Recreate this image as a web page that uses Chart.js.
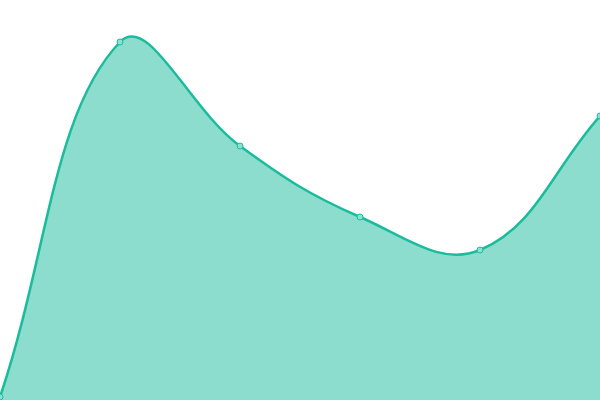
<!DOCTYPE html>
<html>
<head>
<meta charset="utf-8">
<script src="https://cdn.jsdelivr.net/npm/chart.js@4"></script>
<style>
  html, body { margin: 0; padding: 0; background: #fff; }
  #wrap { width: 600px; height: 400px; }
</style>
</head>
<body>
<div id="wrap"><canvas id="areaChart"></canvas></div>
<script>
const labels = ["A", "B", "C", "D", "E", "F"];
const values = [0.75, 89.5, 63.5, 45.75, 37.5, 71];

const ctx = document.getElementById("areaChart").getContext("2d");
new Chart(ctx, {
  type: "line",
  data: {
    labels: labels,
    datasets: [{
      data: values,
      fill: true,
      borderColor: "#1abc9c",
      backgroundColor: "rgba(26, 188, 156, 0.5)",
      borderWidth: 2.5,
      tension: 0.4,
      pointRadius: 3,
      pointBorderWidth: 1,
      pointBorderColor: "#1abc9c",
      pointBackgroundColor: "#8ddfcf"
    }]
  },
  options: {
    responsive: true,
    maintainAspectRatio: false,
    animation: false,
    layout: { padding: 0, autoPadding: false },
    plugins: {
      legend: { display: false },
      tooltip: { enabled: false }
    },
    scales: {
      x: { display: false },
      y: { display: false, min: 0, max: 100 }
    }
  }
});
</script>
</body>
</html>
